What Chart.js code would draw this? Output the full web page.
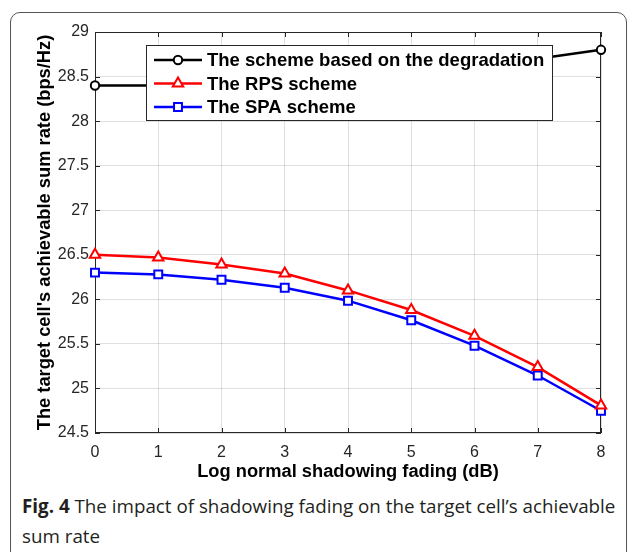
<!DOCTYPE html>
<html><head><meta charset="utf-8">
<script src="https://cdn.jsdelivr.net/npm/chart.js@4/dist/chart.umd.min.js"></script>
<style>
html,body{margin:0;padding:0;background:#fff;}
#wrap{position:relative;width:635px;height:552px;overflow:hidden;}
#frame{position:absolute;left:10px;top:12px;width:617px;height:620px;border:1.5px solid #555;border-radius:10px;box-sizing:border-box;}
#cv{position:absolute;left:0;top:0;}
#cap{position:absolute;left:22px;top:491px;font-family:"Open Sans";font-size:18.8px;line-height:30px;color:#231f20;white-space:nowrap;}
#cap b{font-weight:700;}
</style></head>
<body>
<div id="wrap">
<div id="frame"></div>
<canvas id="cv" width="635" height="490"></canvas>
<div id="cap"><b>Fig. 4</b> The impact of shadowing fading on the target cell’s achievable<br>sum rate</div>
</div>
<script>
const xLabels = ['0','1','2','3','4','5','6','7','8'];
const degradation = [28.4, 28.4, 28.45, 28.5, 28.55, 28.6, 28.65, 28.7, 28.8];
const rps = [26.5, 26.47, 26.39, 26.29, 26.10, 25.88, 25.59, 25.24, 24.81];
const spa = [26.3, 26.28, 26.22, 26.13, 25.985, 25.765, 25.48, 25.145, 24.75];
const yTicks = [24.5, 25, 25.5, 26, 26.5, 27, 27.5, 28, 28.5, 29];
const seriesNames = ['The scheme based on the degradation', 'The RPS scheme', 'The SPA scheme'];

const AX = '#262626';
const FONT = '"Liberation Sans", Arial, sans-serif';

const boxPlugin = {
  id: 'box',
  beforeDatasetsDraw(chart) {
    const {ctx, chartArea: a, scales} = chart;
    ctx.save();
    ctx.strokeStyle = AX; ctx.lineWidth = 1;
    ctx.strokeRect(a.left + 0.5, a.top + 0.5, a.right - a.left - 1, a.bottom - a.top - 1);
    const L = 5;
    ctx.beginPath();
    scales.x.ticks.forEach((t, i) => {
      const px = Math.round(scales.x.getPixelForTick(i)) + 0.5;
      ctx.moveTo(px, a.bottom); ctx.lineTo(px, a.bottom - L);
      ctx.moveTo(px, a.top); ctx.lineTo(px, a.top + L);
    });
    scales.y.ticks.forEach(t => {
      const py = Math.round(scales.y.getPixelForValue(t.value)) + 0.5;
      ctx.moveTo(a.left, py); ctx.lineTo(a.left + L, py);
      ctx.moveTo(a.right, py); ctx.lineTo(a.right - L, py);
    });
    ctx.stroke();
    ctx.restore();
  }
};

function drawMarker(ctx, style, x, y, r, color) {
  ctx.save();
  ctx.strokeStyle = color; ctx.lineWidth = 2; ctx.fillStyle = '#fff';
  ctx.beginPath();
  if (style === 'circle') { ctx.arc(x, y, r, 0, Math.PI * 2); }
  else if (style === 'triangle') {
    ctx.moveTo(x, y - r);
    ctx.lineTo(x + r * Math.sin(Math.PI * 2 / 3), y - r * Math.cos(Math.PI * 2 / 3));
    ctx.lineTo(x - r * Math.sin(Math.PI * 2 / 3), y - r * Math.cos(Math.PI * 2 / 3));
    ctx.closePath();
  } else { const s = Math.SQRT1_2 * r; ctx.rect(x - s, y - s, 2 * s, 2 * s); }
  ctx.fill(); ctx.stroke();
  ctx.restore();
}

const legendPlugin = {
  id: 'inlegend',
  afterDatasetsDraw(chart) {
    const {ctx} = chart;
    const bx = 146, by = 45, bw = 406, bh = 75;
    ctx.save();
    ctx.fillStyle = '#fff';
    ctx.fillRect(bx, by, bw, bh);
    ctx.strokeStyle = AX; ctx.lineWidth = 1;
    ctx.strokeRect(bx + 0.5, by + 0.5, bw, bh);
    const rows = [60, 83.5, 107];
    chart.data.datasets.forEach((ds, i) => {
      const y = rows[i];
      ctx.strokeStyle = ds.borderColor; ctx.lineWidth = 2.5;
      ctx.beginPath(); ctx.moveTo(154, y); ctx.lineTo(202, y); ctx.stroke();
      drawMarker(ctx, ds.pointStyle, 178, y, ds.pointRadius, ds.borderColor);
      ctx.fillStyle = '#000';
      ctx.font = 'bold 18.5px ' + FONT;
      ctx.textBaseline = 'middle'; ctx.textAlign = 'left';
      ctx.fillText(ds.label, 207, y + 1);
    });
    ctx.restore();
  }
};

new Chart(document.getElementById('cv'), {
  type: 'line',
  data: {
    labels: xLabels,
    datasets: [
      {label: seriesNames[0], data: degradation, borderColor: '#000', pointStyle: 'circle', pointRadius: 4.2},
      {label: seriesNames[1], data: rps, borderColor: '#ff0000', pointStyle: 'triangle', pointRadius: 6},
      {label: seriesNames[2], data: spa, borderColor: '#0000ff', pointStyle: 'rect', pointRadius: 5.6}
    ].map(d => Object.assign(d, {
      borderWidth: 2.5, pointBorderWidth: 2, pointBackgroundColor: '#fff',
      pointBorderColor: d.borderColor, tension: 0, clip: false, fill: false
    }))
  },
  options: {
    responsive: false, animation: false,
    devicePixelRatio: 1,
    layout: {padding: {left: 0, right: 34, top: 32, bottom: 0}},
    plugins: {legend: {display: false}, tooltip: {enabled: false}},
    scales: {
      x: {
        type: 'category', offset: false,
        afterFit(s) { s.height = 57; },
        grid: {color: 'rgba(38,38,38,0.15)', drawTicks: false},
        border: {display: false},
        ticks: {color: AX, font: {family: FONT, size: 16}, padding: 10, maxRotation: 0},
        title: {display: true, text: 'Log normal shadowing fading (dB)', color: '#000',
          font: {family: FONT, size: 18.3, weight: 'bold'}, padding: {top: 0, bottom: 7.5}}
      },
      y: {
        min: 24.5, max: 29,
        afterFit(s) { s.width = 95; },
        afterBuildTicks(s) { s.ticks = yTicks.map(v => ({value: v})); },
        grid: {color: 'rgba(38,38,38,0.15)', drawTicks: false},
        border: {display: false},
        ticks: {color: AX, font: {family: FONT, size: 16}, padding: 6,
          callback: v => String(v)},
        title: {display: true, text: "The target cell's achievable sum rate (bps/Hz)", color: '#000',
          font: {family: FONT, size: 18.3, weight: 'bold'}, padding: {top: 33.5, bottom: 0}}
      }
    }
  },
  plugins: [boxPlugin, legendPlugin]
});
</script>
</body></html>
